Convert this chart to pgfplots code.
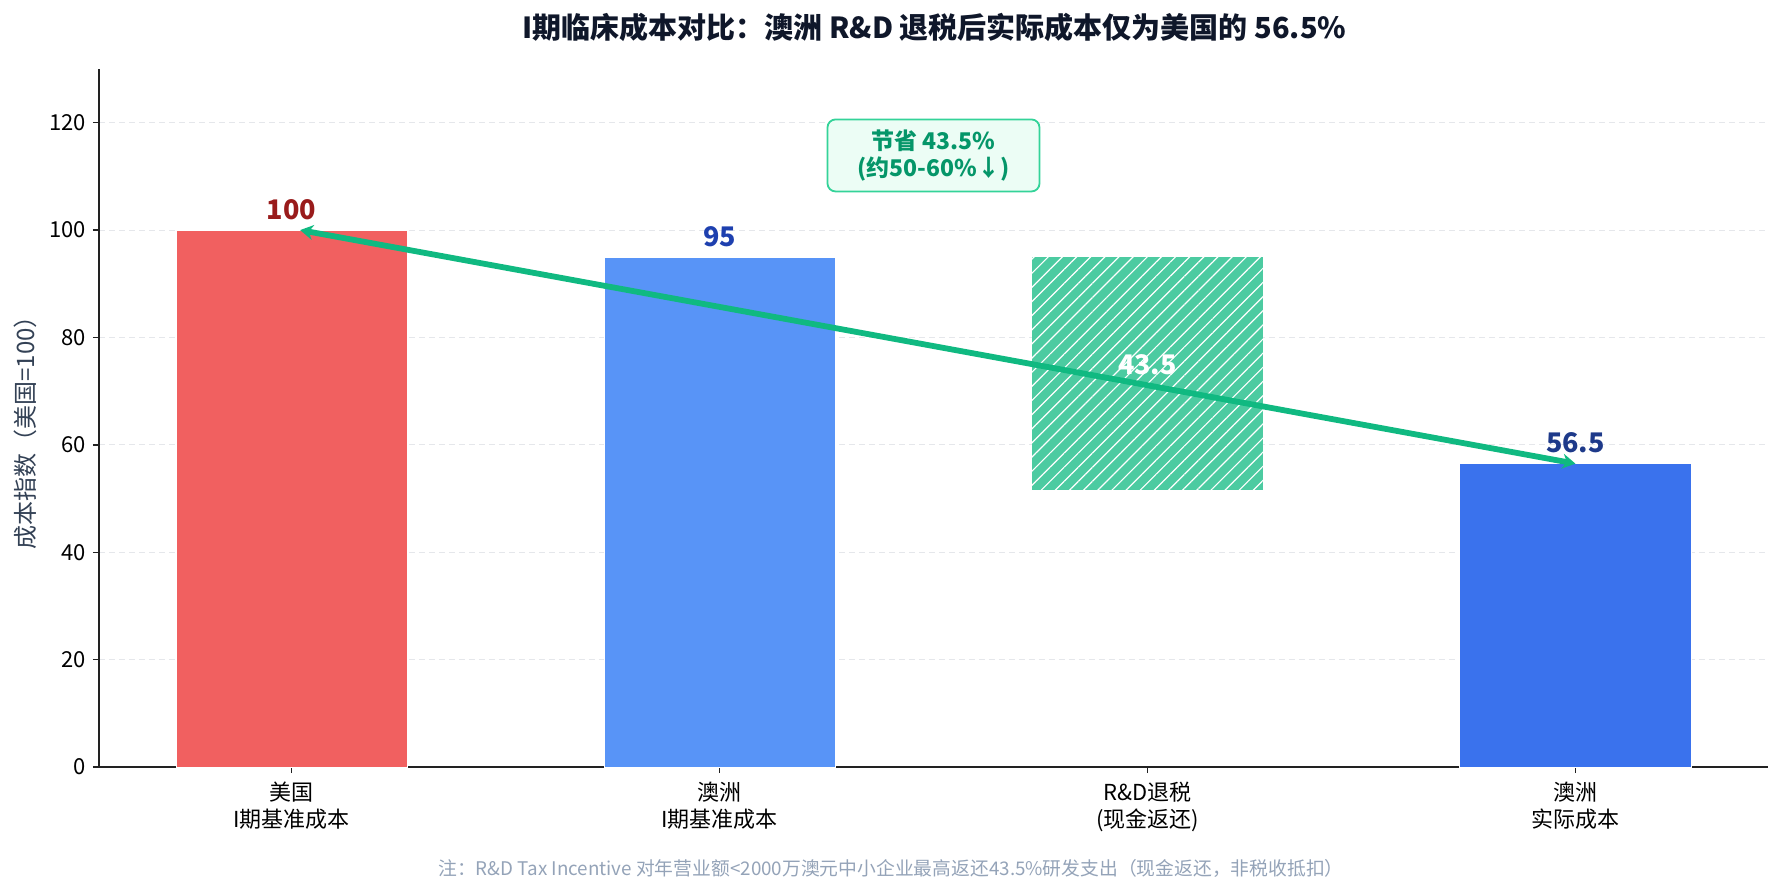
\documentclass[border=0pt]{standalone}
\usepackage{pgfplots}
\pgfplotsset{compat=1.18}
\usepackage{fontspec}
\setmainfont{Noto Sans CJK SC}
\usetikzlibrary{patterns.meta,arrows.meta}
\definecolor{cRed}{HTML}{F16060}
\definecolor{cBlue}{HTML}{5894F7}
\definecolor{cDark}{HTML}{3A72ED}
\definecolor{cGreen}{HTML}{4CCBA1}
\definecolor{cArrow}{HTML}{10B981}
\definecolor{cLRed}{HTML}{991B1B}
\definecolor{cLBlue}{HTML}{1E40AF}
\definecolor{cLDark}{HTML}{1E3A8A}
\definecolor{cBoxEdge}{HTML}{34D399}
\definecolor{cBoxFill}{HTML}{ECFDF5}
\definecolor{cBoxText}{HTML}{059669}
\definecolor{cTitle}{HTML}{0F172A}
\definecolor{cYlab}{HTML}{334155}
\definecolor{cNote}{HTML}{94A3B8}
\definecolor{cGrid}{HTML}{E5E7EB}
\definecolor{cAxis}{HTML}{222222}
\begin{document}
\begin{tikzpicture}
\useasboundingbox (-49.5pt,-64pt) rectangle (843pt,383.5pt);
\begin{axis}[
  at={(0,0)}, anchor=south west,
  scale only axis, width=834.5pt, height=349pt,
  xmin=-0.45, xmax=3.45, ymin=0, ymax=130,
  axis x line*=bottom, axis y line*=left,
  axis line style={-, line width=0.8pt, color=cAxis},
  ytick={0,20,40,60,80,100,120},
  xtick={0,1,2,3},
  xticklabels={{美国\\I期基准成本},{澳洲\\I期基准成本},{R\&D退税\\(现金返还)},{澳洲\\实际成本}},
  xticklabel style={align=center, font=\fontsize{11}{13.5}\selectfont, yshift=-1pt},
  yticklabel style={font=\fontsize{11}{13}\selectfont},
  /pgf/number format/assume math mode=true,
  tick align=outside, major tick length=3pt,
  tick style={line width=0.7pt, color=cAxis},
  ymajorgrids, grid style={dashed, dash pattern=on 3pt off 2pt, line width=0.5pt, color=cGrid},
]
\addplot[ybar, bar width=0.54, bar shift=0pt, fill=cRed, draw=white, line width=0.4pt] coordinates {(0,100)};
\addplot[ybar, bar width=0.54, bar shift=0pt, fill=cBlue, draw=white, line width=0.4pt] coordinates {(1,95)};
\addplot[fill=cGreen, draw=none, mark=none] coordinates {(1.73,51.5) (2.27,51.5) (2.27,95) (1.73,95)} -- cycle;
\addplot[draw=none, mark=none, pattern={Lines[angle=45,distance=5pt,line width=0.6pt]}, pattern color=white] coordinates {(1.73,51.5) (2.27,51.5) (2.27,95) (1.73,95)} -- cycle;
\addplot[ybar, bar width=0.54, bar shift=0pt, fill=cDark, draw=white, line width=0.4pt] coordinates {(3,56.5)};
\addplot[draw=cArrow, line width=2.9pt, mark=none, {Stealth[length=6.5pt,width=7.5pt]}-{Stealth[length=6.5pt,width=7.5pt]}] coordinates {(0.02,100) (3,56.5)};
\node[anchor=south, inner sep=0pt, yshift=5pt, text=cLRed, font=\bfseries\fontsize{13.5}{15}\selectfont] at (axis cs:0,100) {100};
\node[anchor=south, inner sep=0pt, yshift=5pt, text=cLBlue, font=\bfseries\fontsize{13.5}{15}\selectfont] at (axis cs:1,95) {95};
\node[anchor=south, inner sep=0pt, yshift=5pt, text=cLDark, font=\bfseries\fontsize{13.5}{15}\selectfont] at (axis cs:3,56.5) {56.5};
\node[inner sep=0pt, text=white, font=\bfseries\fontsize{13.5}{15}\selectfont] at (axis cs:2,75) {43.5};
\node[draw=cBoxEdge, fill=cBoxFill, rounded corners=4pt, line width=0.9pt, align=center, text=cBoxText, font=\bfseries\fontsize{11.5}{13.3}\selectfont, minimum width=106pt, minimum height=36pt, inner sep=2pt] at (axis cs:1.5,113.9) {节省 43.5\%\\(约50-60\%↓)};
\end{axis}
\node[text=cTitle, font=\bfseries\fontsize{14.5}{16}\selectfont] at (417.7pt,370pt) {I期临床成本对比：澳洲 R\&D 退税后实际成本仅为美国的 56.5\%};
\node[rotate=90, text=cYlab, font=\fontsize{12}{13}\selectfont] at (-37pt,170pt) {成本指数（美国=100）};
\node[text=cNote, font=\fontsize{9.4}{11}\selectfont] at (396pt,-50.5pt) {注：R\&D Tax Incentive 对年营业额<2000万澳元中小企业最高返还43.5\%研发支出（现金返还，非税收抵扣）};
\end{tikzpicture}
\end{document}
